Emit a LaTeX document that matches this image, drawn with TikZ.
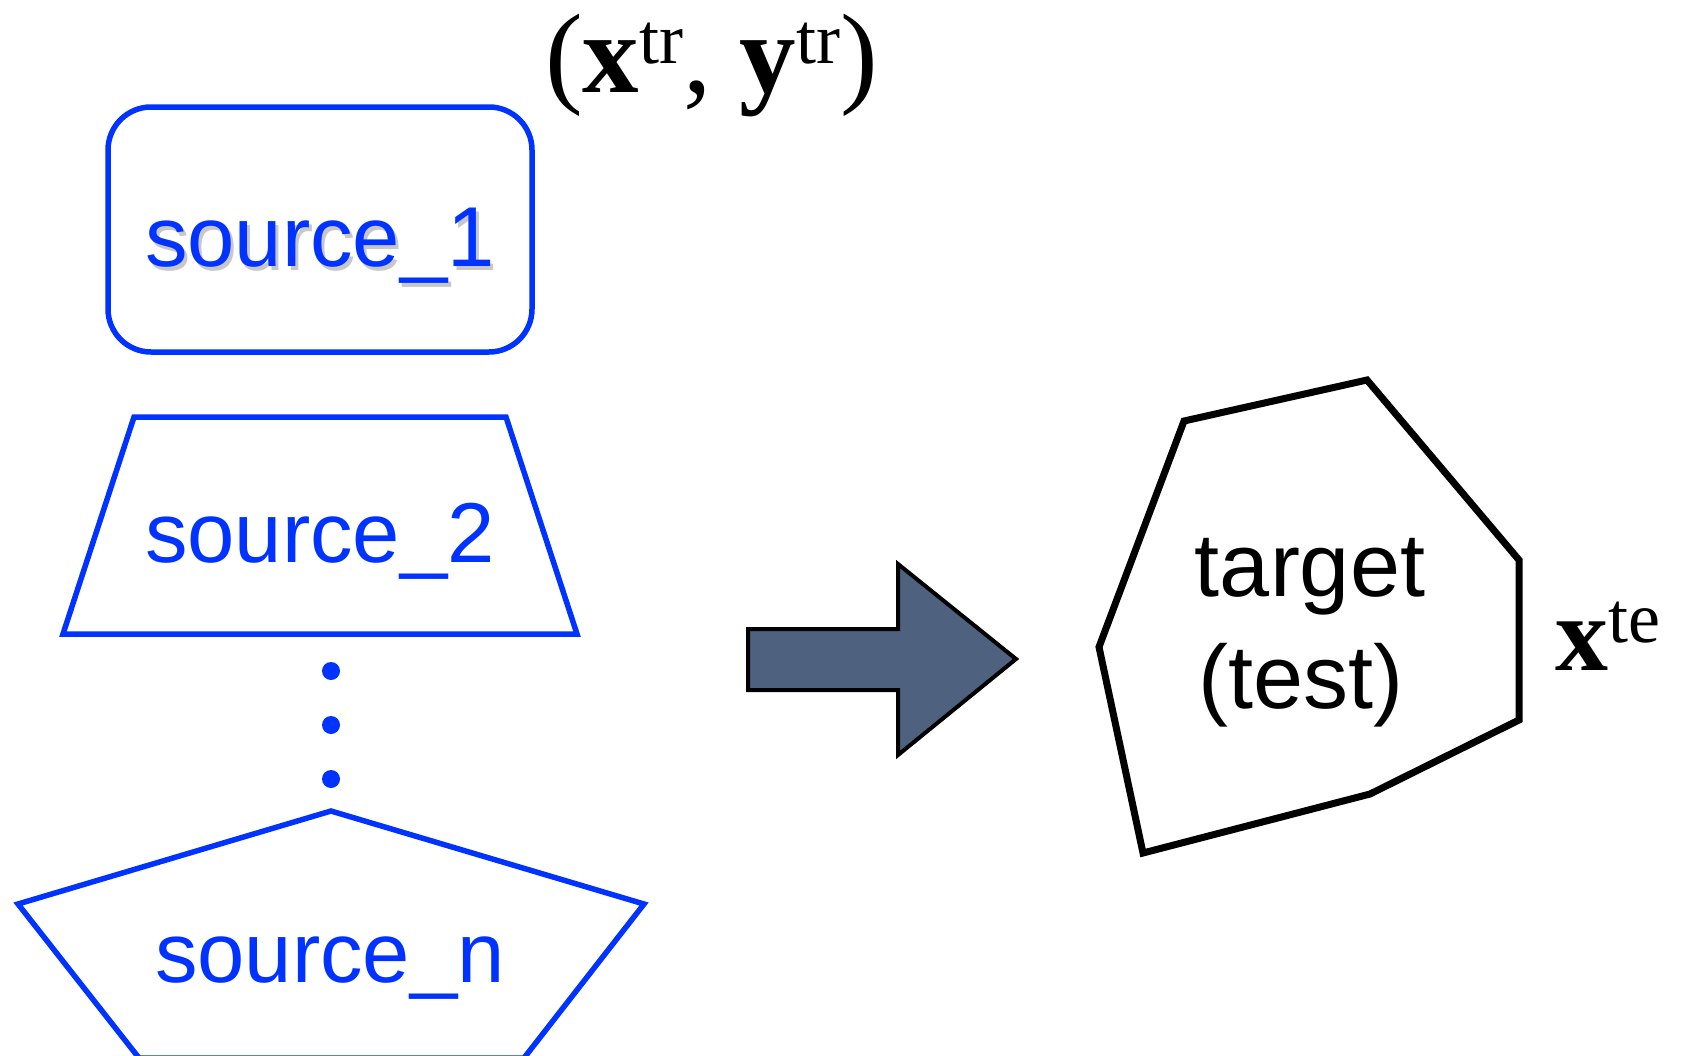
\documentclass[tikz,border=0pt]{standalone}
\usepackage{fontspec}
\setmainfont{Liberation Sans}
\newfontfamily\tnr{Liberation Serif}
\definecolor{srcblue}{RGB}{0,51,255}
\definecolor{arrowfill}{RGB}{78,98,128}
\begin{document}
\begin{tikzpicture}[x=1pt,y=-1pt,
  srcshape/.style={draw=srcblue,line width=5.5pt,line join=miter},
  srctext/.style={text=srcblue,inner sep=0pt,anchor=base,font=\fontsize{85}{85}\selectfont},
  shadowtext/.style={text=black,text opacity=0.22,inner sep=0pt,anchor=base,font=\fontsize{85}{85}\selectfont},
  tgtshape/.style={draw=black,line width=7pt,line join=miter},
  tgttext/.style={text=black,inner sep=0pt,anchor=base,font=\fontsize{90}{90}\selectfont},
  mathlabel/.style={inner sep=0pt,anchor=base west,font=\tnr\fontsize{113}{113}\selectfont}]
\useasboundingbox (0,0) rectangle (1693,1055);

% source_1
\node[srcshape,rounded corners=43pt,minimum width=424pt,minimum height=245pt,inner sep=0pt] (s1box) at (320,229.5) {};
\node[shadowtext] (s1shadow) at (323,270) {source\_1};
\node[srctext] (s1) at (320,266) {source\_1};

% source_2 trapezoid
\draw[srcshape] (134,417) coordinate (t1) -- (506,417) coordinate (t2) -- (577,634) coordinate (t3) -- (63,634) coordinate (t4) -- cycle;
\node[srctext] (s2) at (320,562) {source\_2};

% dots
\foreach \y/\n in {671/d1,725/d2,779/d3}{
  \fill[srcblue] (331,\y) circle (9pt) coordinate (\n);
}

% source_n pentagon
\draw[srcshape] (331,811) coordinate (p1) -- (644,904) coordinate (p2) -- (524,1058) coordinate (p3) -- (139,1058) coordinate (p4) -- (18,904) coordinate (p5) -- cycle;
\node[srctext] (sn) at (330,982) {source\_n};

% title
\node[mathlabel] (title) at (545,92) {(\textbf{x}\raisebox{29pt}{\tnr\fontsize{72}{72}\selectfont tr}, \textbf{y}\raisebox{29pt}{\tnr\fontsize{72}{72}\selectfont tr})};

% block arrow
\draw[fill=arrowfill,draw=black,line width=4pt,line join=miter]
  (748,629) coordinate (a1) -- (898,629) -- (898,564) -- (1016,659) coordinate (tip) -- (898,755) -- (898,690) -- (748,690) -- cycle;

% target polygon
\draw[tgtshape] (1184,421) coordinate (g1) -- (1367,380) coordinate (g2) -- (1519,560) coordinate (g3) -- (1519,720) coordinate (g4) -- (1370,794) coordinate (g5) -- (1143,853) coordinate (g6) -- (1099,647) coordinate (g7) -- cycle;
\node[tgttext] (tg1) at (1310,596) {target};
\node[tgttext] (tg2) at (1301,708) {(test)};

% x^te
\node[mathlabel,font=\tnr\fontsize{106}{106}\selectfont] (xte) at (1555,670) {\textbf{x}\raisebox{28pt}{\tnr\fontsize{72}{72}\selectfont te}};
\end{tikzpicture}
\end{document}
